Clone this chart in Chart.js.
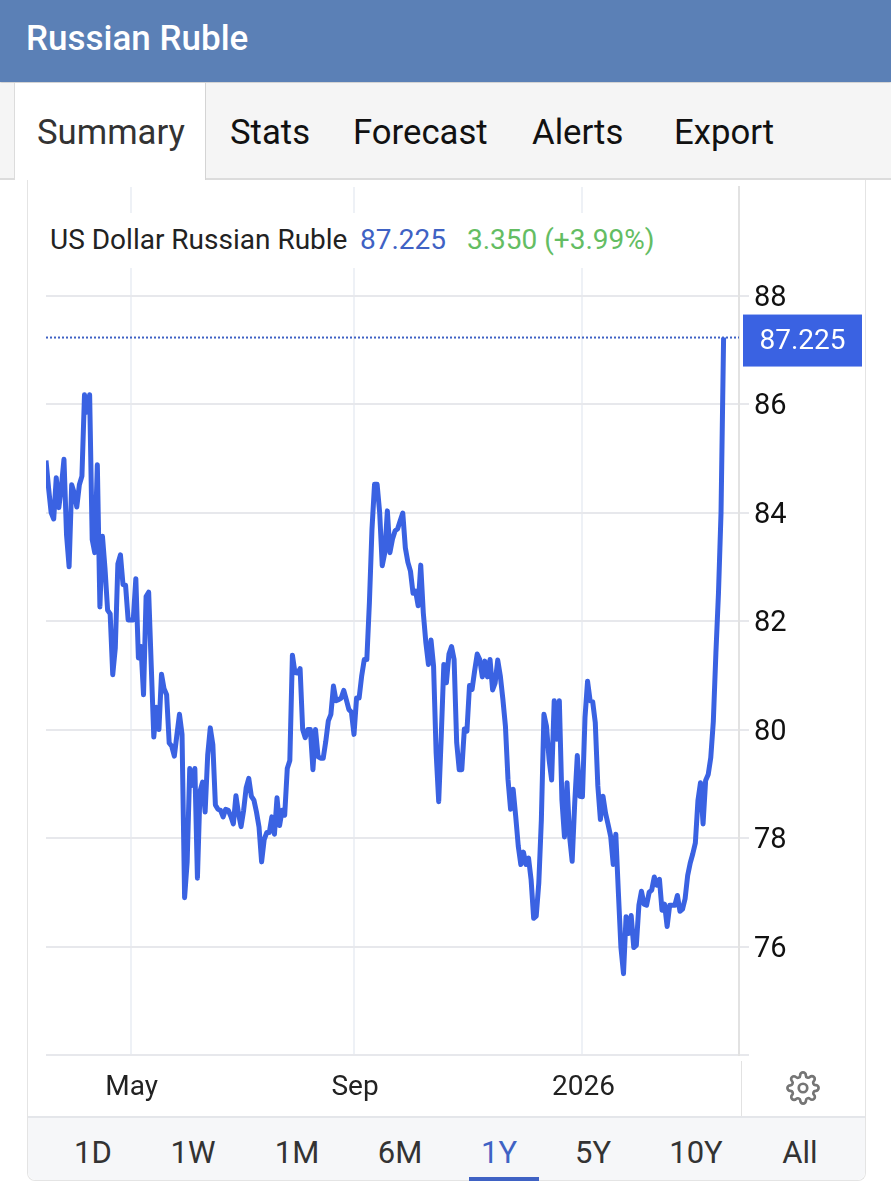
<!DOCTYPE html>
<html>
<head>
<meta charset="utf-8">
<title>Russian Ruble</title>
<script src="https://cdn.jsdelivr.net/npm/chart.js@4/dist/chart.umd.min.js"></script>
<style>
  html, body { margin: 0; padding: 0; background: #fff; }
  body { width: 891px; height: 1200px; position: relative; overflow: hidden; font-family: Roboto, sans-serif; color: #111; }
  .abs { position: absolute; white-space: nowrap; }
  #topbar { left: 0; top: 0; width: 891px; height: 82px; background: #5b80b6; box-shadow: 0 1px 2px rgba(0,0,0,.25); }
  #brand { left: 26px; top: 19px; font-size: 35px; line-height: 40px; font-weight: 500; color: #fff; }
  #tabbar { left: 0; top: 83px; width: 891px; height: 95px; background: #f5f5f5; border-bottom: 2px solid #dcdcdc; }
  #activetab { left: 14px; top: 83px; width: 192px; height: 97px; background: #fff; border-left: 1px solid #dcdcdc; border-right: 1px solid #d4d4d4; box-sizing: border-box; }
  .tab { top: 110px; font-size: 34.7px; line-height: 44px; color: #111; }
  #card { left: 27px; top: 180px; width: 839px; height: 1001px; box-sizing: border-box; border: 1px solid #e4e4e4; border-top: 0; border-radius: 0 0 8px 8px; }
  #plot { position: absolute; left: 28px; top: 180px; }
  #titleband { left: 46px; top: 213px; width: 690px; height: 55px; background: #fff; }
  .head { top: 223px; font-size: 28px; line-height: 34px; }
  #rangebar { left: 28px; top: 1116px; width: 837px; height: 64px; background: #f6f7f9; border-top: 2px solid #e4e6ea; box-sizing: border-box; border-radius: 0 0 8px 8px; }
  .range { top: 1134px; width: 80px; text-align: center; font-size: 31px; line-height: 38px; color: #333; }
  #underline { left: 469px; top: 1177px; width: 70px; height: 4px; background: #3f62c4; }
  #sep { left: 741px; top: 1061px; width: 1px; height: 55px; background: #e2e2e2; }
  #gear { left: 786px; top: 1071px; width: 34px; height: 34px; }
</style>
</head>
<body>
<div class="abs" id="topbar"></div>
<div class="abs" id="brand">Russian Ruble</div>
<div class="abs" id="tabbar"></div>
<div class="abs" id="activetab"></div>
<div class="abs tab" style="left:37px;color:#333">Summary</div>
<div class="abs tab" style="left:230px">Stats</div>
<div class="abs tab" style="left:353px">Forecast</div>
<div class="abs tab" style="left:532px">Alerts</div>
<div class="abs tab" style="left:674px">Export</div>
<div class="abs" id="card"></div>
<canvas id="plot" width="836" height="936"></canvas>
<div class="abs" id="titleband"></div>
<div class="abs head" style="left:50px;color:#222">US Dollar Russian Ruble</div>
<div class="abs head" style="left:360px;color:#3f62c4">87.225</div>
<div class="abs head" style="left:467px;color:#64bd63">3.350 (+3.99%)</div>
<div class="abs" id="sep"></div>
<svg class="abs" id="gear" viewBox="0 0 24 24" fill="none" stroke="#757575" stroke-width="1.9" stroke-linecap="round" stroke-linejoin="round">
  <circle cx="12" cy="12" r="3"></circle>
  <path d="M19.4 15a1.65 1.65 0 0 0 .33 1.82l.06.06a2 2 0 0 1 0 2.83 2 2 0 0 1-2.83 0l-.06-.06a1.65 1.65 0 0 0-1.82-.33 1.65 1.65 0 0 0-1 1.51V21a2 2 0 0 1-2 2 2 2 0 0 1-2-2v-.09A1.65 1.65 0 0 0 9 19.4a1.65 1.65 0 0 0-1.82.33l-.06.06a2 2 0 0 1-2.83 0 2 2 0 0 1 0-2.83l.06-.06a1.65 1.65 0 0 0 .33-1.82 1.65 1.65 0 0 0-1.51-1H3a2 2 0 0 1-2-2 2 2 0 0 1 2-2h.09A1.65 1.65 0 0 0 4.6 9a1.65 1.65 0 0 0-.33-1.82l-.06-.06a2 2 0 0 1 0-2.83 2 2 0 0 1 2.83 0l.06.06a1.65 1.65 0 0 0 1.82.33H9a1.65 1.65 0 0 0 1-1.51V3a2 2 0 0 1 2-2 2 2 0 0 1 2 2v.09a1.65 1.65 0 0 0 1 1.51 1.65 1.65 0 0 0 1.82-.33l.06-.06a2 2 0 0 1 2.83 0 2 2 0 0 1 0 2.83l-.06.06a1.65 1.65 0 0 0-.33 1.82V9a1.65 1.65 0 0 0 1.51 1H21a2 2 0 0 1 2 2 2 2 0 0 1-2 2h-.09a1.65 1.65 0 0 0-1.51 1z"></path>
</svg>
<div class="abs" id="rangebar"></div>
<div class="abs range" style="left:53px">1D</div>
<div class="abs range" style="left:153px">1W</div>
<div class="abs range" style="left:257px">1M</div>
<div class="abs range" style="left:360px">6M</div>
<div class="abs range" style="left:459px;color:#3f62c4">1Y</div>
<div class="abs range" style="left:553px">5Y</div>
<div class="abs range" style="left:656px">10Y</div>
<div class="abs range" style="left:760px">All</div>
<div class="abs" id="underline"></div>

<script>
// --- Data, one value per trading session ---
const rates = [
  84.96, 84.45, 84.00, 83.88, 84.64, 84.09, 84.48, 84.98, 83.59, 83.00,
  84.51, 84.36, 84.10, 84.51, 84.67, 86.17, 85.85, 86.17, 83.50, 83.26,
  84.88, 82.26, 83.56, 82.96, 82.20, 82.13, 81.01, 81.50, 83.05, 83.22,
  82.67, 82.66, 82.02, 82.02, 82.02, 82.78, 81.32, 81.53, 80.64, 82.45,
  82.53, 81.18, 79.86, 80.41, 80.00, 81.02, 80.75, 80.64, 79.75, 79.69,
  79.51, 79.90, 80.28, 79.91, 76.90, 77.56, 79.28, 78.97, 79.28, 77.26,
  78.86, 79.03, 78.48, 79.53, 80.03, 79.72, 78.61, 78.53, 78.51, 78.39,
  78.53, 78.51, 78.40, 78.26, 78.78, 78.45, 78.21, 78.51, 78.93, 79.10,
  78.77, 78.70, 78.48, 78.20, 77.56, 77.97, 78.10, 78.10, 78.39, 78.07,
  78.74, 78.23, 78.51, 78.42, 79.28, 79.43, 81.37, 81.05, 81.04, 81.12,
  80.00, 79.85, 80.00, 80.00, 79.26, 80.00, 79.50, 79.47, 79.47, 79.78,
  80.16, 80.28, 80.80, 80.53, 80.55, 80.58, 80.72, 80.55, 80.37, 80.32,
  79.91, 80.58, 80.58, 80.99, 81.29, 81.29, 82.34, 83.69, 84.52, 84.52,
  84.00, 83.02, 83.26, 84.03, 83.26, 83.51, 83.66, 83.70, 83.85, 83.99,
  83.35, 83.08, 82.92, 82.51, 82.55, 82.28, 83.03, 82.15, 81.60, 81.20,
  81.65, 81.17, 79.57, 78.67, 79.88, 81.20, 80.86, 81.39, 81.53, 81.29,
  79.76, 79.26, 79.26, 80.01, 79.97, 80.81, 80.74, 81.08, 81.39, 81.29,
  80.97, 81.26, 80.97, 81.29, 80.73, 80.86, 81.28, 80.99, 80.56, 80.06,
  79.08, 78.53, 78.90, 78.40, 77.85, 77.51, 77.74, 77.51, 77.63, 77.23,
  76.52, 76.56, 77.17, 78.34, 80.28, 80.06, 79.45, 79.07, 80.53, 79.82,
  80.53, 78.71, 78.02, 79.02, 78.03, 77.57, 78.65, 79.52, 78.77, 78.76,
  80.22, 80.89, 80.53, 80.51, 80.13, 78.96, 78.34, 78.77, 78.46, 78.25,
  78.03, 77.51, 78.07, 77.00, 75.98, 75.50, 76.55, 76.24, 76.57, 75.98,
  76.02, 76.76, 77.02, 76.78, 76.76, 77.00, 77.04, 77.28, 77.13, 77.24,
  76.67, 76.78, 76.37, 76.76, 76.76, 76.76, 76.94, 76.65, 76.69, 76.88,
  77.31, 77.54, 77.71, 77.91, 78.69, 79.02, 78.26, 79.06, 79.17, 79.48,
  80.15, 81.41, 82.51, 84.00, 87.225
];
const lastRate = 87.225;
const lastRateLabel = '87.225';

const monthSessions = [33, 120, 209];
const monthLabels = ['May', 'Sep', '2026'];
const rateTicks = [76, 78, 80, 82, 84, 86, 88];

const BLUE = '#3a62e2';
const sessionCount = 270;

// price flag on the right of the axis
const lastRateFlag = {
  id: 'lastRateFlag',
  afterDraw(chart) {
    const { ctx, chartArea, scales } = chart;
    const y = scales.y.getPixelForValue(lastRate);
    ctx.save();
    ctx.fillStyle = BLUE;
    ctx.fillRect(chartArea.right + 4, y - 23, 119, 52);
    ctx.fillStyle = '#fff';
    ctx.font = '28px Roboto';
    ctx.textAlign = 'center';
    ctx.textBaseline = 'middle';
    ctx.fillText(lastRateLabel, chartArea.right + 63.5, y + 4);
    ctx.restore();
  }
};

new Chart(document.getElementById('plot').getContext('2d'), {
  type: 'line',
  plugins: [lastRateFlag],
  data: {
    datasets: [
      {
        data: rates.map((v, i) => ({ x: i, y: v })),
        borderColor: BLUE,
        borderWidth: 5,
        borderJoinStyle: 'round',
        pointRadius: 0,
        tension: 0
      },
      {
        data: [{ x: 0, y: lastRate }, { x: sessionCount, y: lastRate }],
        borderColor: '#3f62c4',
        borderWidth: 2,
        borderDash: [2, 2],
        pointRadius: 0
      }
    ]
  },
  options: {
    responsive: false,
    animation: false,
    layout: { padding: { left: 18, top: 7 } },
    plugins: { legend: { display: false }, tooltip: { enabled: false } },
    scales: {
      x: {
        type: 'linear',
        min: 0,
        max: sessionCount,
        afterBuildTicks: (axis) => { axis.ticks = monthSessions.map(v => ({ value: v })); },
        afterFit: (axis) => { axis.height = 61; axis.paddingLeft = 0; axis.paddingRight = 0; },
        grid: { color: '#eef1f6', lineWidth: 2, drawTicks: false },
        border: { display: false },
        ticks: {
          autoSkip: false,
          maxRotation: 0,
          padding: 16,
          labelOffset: 1,
          color: '#222',
          font: { family: 'Roboto', size: 28 },
          callback: (v) => monthLabels[monthSessions.indexOf(v)]
        }
      },
      y: {
        position: 'right',
        min: 74,
        max: 90,
        afterFit: (axis) => { axis.width = 125; axis.paddingTop = 0; axis.paddingBottom = 0; },
        grid: {
          color: (c) => (c.tick.value === 90 ? 'transparent' : '#e7e8ec'),
          lineWidth: 2,
          tickLength: 10
        },
        border: { display: true, color: '#e2e2e2', width: 2 },
        ticks: {
          stepSize: 2,
          padding: 5,
          labelOffset: 3,
          color: '#111',
          font: { family: 'Roboto', size: 29 },
          callback: (v) => (rateTicks.includes(v) ? String(v) : '')
        }
      }
    }
  }
});
</script>
</body>
</html>
